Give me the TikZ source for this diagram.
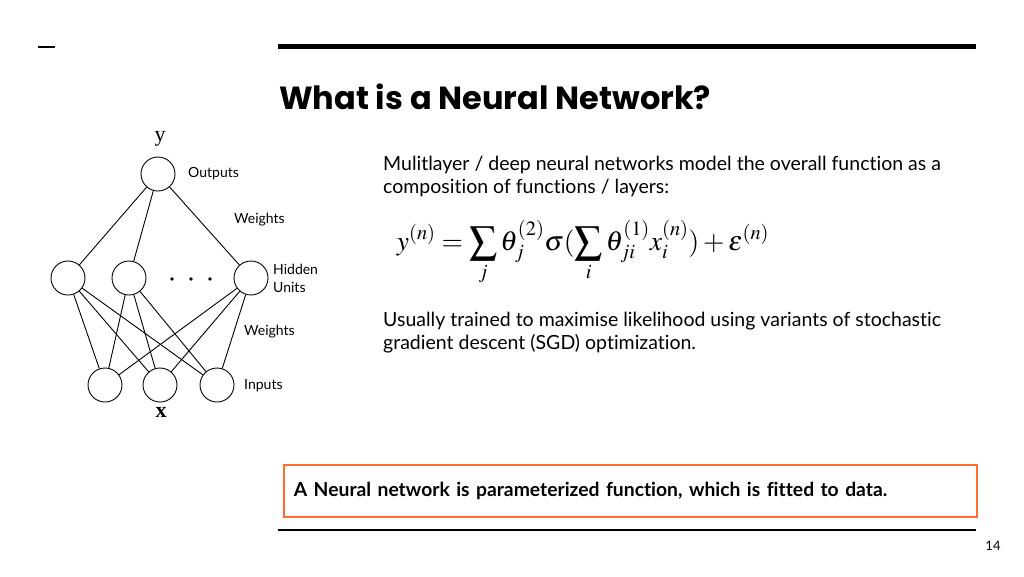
\documentclass[tikz,border=0pt]{standalone}
\usepackage{mathptmx}
\usepackage{fontspec}
\setmainfont{Lato}[Ligatures=NoCommon]
\newfontfamily\titlefont{Poppins}
\newfontfamily\seriffont{Liberation Serif}
\usetikzlibrary{positioning}
\definecolor{slideorange}{HTML}{FF6D2E}

\begin{document}
\begin{tikzpicture}[x=1pt,y=-1pt,
    unit/.style={draw,circle,minimum size=34pt,inner sep=0pt,line width=0.9pt},
    conn/.style={line width=0.9pt},
    lbl/.style={font=\fontsize{14}{18}\selectfont,align=left,anchor=west,inner sep=0pt},
    body/.style={font=\fontsize{19.5}{23}\selectfont,align=left,anchor=west,inner sep=0pt}
  ]
  \useasboundingbox (0,0) rectangle (1024,576);
  % slide rules
  \draw[line width=2pt] (38,47) -- (55,47);
  \draw[line width=5pt] (278,46) -- (976,46);
  \draw[line width=2.5pt] (278,530) -- (976,530);
  \node[anchor=west,inner sep=0pt,font=\titlefont\bfseries\fontsize{32}{36}\selectfont] (title) at (279,97) {What is a Neural Network?};
  % network
  \node[unit] (out) at (158,174) {};
  \node[unit] (h1) at (68,278) {};
  \node[unit] (h2) at (129,278) {};
  \node[unit] (h3) at (251,278) {};
  \node[unit] (in1) at (105,385) {};
  \node[unit] (in2) at (160,385) {};
  \node[unit] (in3) at (217,385) {};
  \foreach \h in {h1,h2,h3} {
    \draw[conn] (out) -- (\h);
    \foreach \i in {in1,in2,in3}
      \draw[conn] (\h) -- (\i);
  }
  \foreach \x in {172,191,210}
    \fill (\x,279) circle (1.8pt);
  \node[font=\seriffont\fontsize{22}{24}\selectfont,inner sep=0pt] (ylbl) at (160,139) {y};
  \node[font=\seriffont\bfseries\fontsize{22}{24}\selectfont,inner sep=0pt] (xlbl) at (161,412) {x};
  \node[lbl] (outlbl) at (188,174) {Outputs};
  \node[lbl] (w2lbl) at (234,220) {Weights};
  \node[lbl] (hidlbl) at (273,278) {Hidden\\Units};
  \node[lbl] (w1lbl) at (244,332) {Weights};
  \node[lbl] (inlbl) at (244,386) {Inputs};
  % text
  \node[body] (intro) at (383,176) {Mulitlayer / deep neural networks model the overall function as a\\composition of functions / layers:};
  \node[font=\fontsize{27.5}{30}\selectfont] (eq) at (583,253)
    {$\displaystyle y^{(n)} = \sum_j \theta_j^{(2)} \sigma(\sum_i \theta_{ji}^{(1)} x_i^{(n)}) + \epsilon^{(n)}$};
  \node[body] (sgd) at (383,333) {Usually trained to maximise likelihood using variants of stochastic\\gradient descent (SGD) optimization.};
  \node[draw=slideorange,line width=1.8pt,anchor=north west,minimum width=693pt,minimum height=52pt,
        text width=673pt,inner xsep=10pt,align=left,font=\bfseries\fontsize{19.3}{22}\selectfont] (key) at (283,464)
    {A Neural network is parameterized function, which is fitted to data.};
  \node[font=\fontsize{13}{15}\selectfont] (page) at (993,546) {14};
\end{tikzpicture}
\end{document}
